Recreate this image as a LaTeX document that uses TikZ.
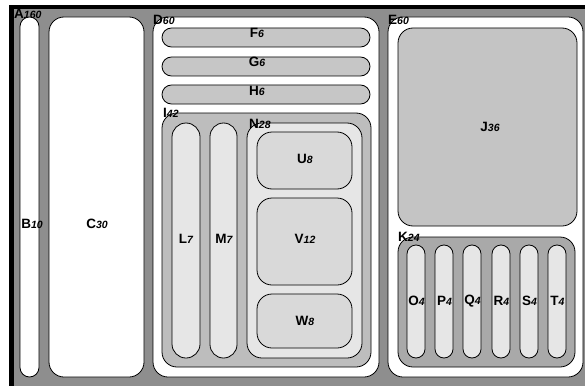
\documentclass[tikz,border=0pt]{standalone}
\usepackage{fontspec}
\setmainfont{Liberation Sans}
\newcommand\tmlab[2]{{\fontsize{13.5}{14}\selectfont\bfseries #1}{\fontsize{10.5}{11}\selectfont\bfseries\itshape #2}}
\definecolor{agray}{HTML}{8E8E8E}
\definecolor{fgray}{HTML}{C6C6C6}
\definecolor{igray}{HTML}{BDBDBD}
\definecolor{jgray}{HTML}{C4C4C4}
\definecolor{kgray}{HTML}{A9A9A9}
\definecolor{lightg}{HTML}{E6E6E6}
\definecolor{uvw}{HTML}{D9D9D9}
\begin{document}
\begin{tikzpicture}[x=1pt,y=-1pt,
  box/.style={draw=black,line width=0.8pt},
  lbl/.style={inner sep=0pt,text=black}]
\useasboundingbox (0,0) rectangle (585,385);
\clip (0,0) rectangle (585,385);
\fill[white] (0,0) rectangle (585,385);
\fill[black] (9,5) rectangle (590,390);
\fill[agray] (14,9) rectangle (590,390);
\node[lbl,anchor=west] (A) at (14,14) {\tmlab{A}{160}};
% B, C
\draw[box,fill=white,rounded corners=9.5pt] (20,17) rectangle (39,377);
\node[lbl] (B) at (32,224) {\tmlab{B}{10}};
\draw[box,fill=white,rounded corners=15pt] (49,17) rectangle (144,377);
\node[lbl] (C) at (97,224) {\tmlab{C}{30}};
% D
\draw[box,fill=white,rounded corners=15pt] (153,17) rectangle (379,377);
\node[lbl,anchor=west] (D) at (153,20) {\tmlab{D}{60}};
\draw[box,fill=fgray,rounded corners=9.5pt] (162,28) rectangle (370,47);
\node[lbl] (F) at (257,33) {\tmlab{F}{6}};
\draw[box,fill=fgray,rounded corners=9.5pt] (162,57) rectangle (370,76);
\node[lbl] (G) at (257,62) {\tmlab{G}{6}};
\draw[box,fill=fgray,rounded corners=9.5pt] (162,85) rectangle (370,104);
\node[lbl] (H) at (257,91) {\tmlab{H}{6}};
% I
\draw[box,fill=igray,rounded corners=15pt] (162,113) rectangle (371,367);
\node[lbl,anchor=west] (I) at (163,113) {\tmlab{I}{42}};
\draw[box,fill=lightg,rounded corners=14pt] (172,123) rectangle (200,358);
\node[lbl] (L) at (186,239) {\tmlab{L}{7}};
\draw[box,fill=lightg,rounded corners=13.5pt] (210,123) rectangle (237,358);
\node[lbl] (M) at (224,239) {\tmlab{M}{7}};
% N
\draw[box,fill=lightg,rounded corners=15pt] (247,123) rectangle (362,358);
\node[lbl,anchor=west] (N) at (249,124) {\tmlab{N}{28}};
\draw[box,fill=uvw,rounded corners=15pt] (257,132) rectangle (352,189);
\node[lbl] (U) at (305,159) {\tmlab{U}{8}};
\draw[box,fill=uvw,rounded corners=15pt] (257,198) rectangle (352,285);
\node[lbl] (V) at (305,239) {\tmlab{V}{12}};
\draw[box,fill=uvw,rounded corners=15pt] (257,294) rectangle (352,348);
\node[lbl] (W) at (305,321) {\tmlab{W}{8}};
% E
\draw[box,fill=white,rounded corners=15pt] (388,17) rectangle (583,377);
\node[lbl,anchor=west] (E) at (388,20) {\tmlab{E}{60}};
\draw[box,fill=jgray,rounded corners=15pt] (398,28) rectangle (577,226);
\node[lbl] (J) at (490,127) {\tmlab{J}{36}};
\draw[box,fill=kgray,rounded corners=15pt] (398,237) rectangle (575,367);
\node[lbl,anchor=west] (K) at (398,237) {\tmlab{K}{24}};
\foreach \x/\n in {407/O,435/P,463/Q,492/R,520/S,548/T}{
  \draw[box,fill=lightg,rounded corners=9pt] (\x,245) rectangle (\x+18,358);
  \node[lbl] (\n) at (\x+9.5,301) {\tmlab{\n}{4}};
}
\end{tikzpicture}
\end{document}
